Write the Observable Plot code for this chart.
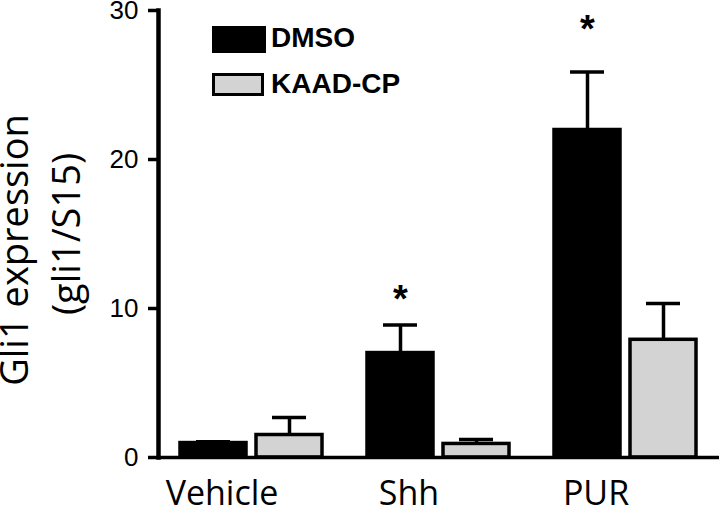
<!DOCTYPE html>
<html>
<head>
<meta charset="utf-8">
<script src="https://cdn.jsdelivr.net/npm/d3@7"></script>
<script src="https://cdn.jsdelivr.net/npm/@observablehq/plot@0.6"></script>
<style>
  body { margin: 0; background: white; }
  #wrap { position: relative; width: 720px; height: 506px; overflow: hidden; background: white; }
  #wrap svg [aria-label="frame"] { stroke-width: 4.5px; }
  #wrap svg [aria-label="y-axis tick"], #wrap svg [aria-label="y-axis tick"] * { stroke-width: 3.5px; }
  .ylab { position: absolute; white-space: nowrap; font-family: "Open Sans", sans-serif; font-size: 38px; line-height: 1; color: #000; transform: translate(-50%, -50%) rotate(-90deg); }
  .legtext { position: absolute; font-family: "Liberation Sans", Arial, sans-serif; font-weight: bold; font-size: 28px; line-height: 1; color: #000; white-space: nowrap; }
  .sw { position: absolute; box-sizing: border-box; }
</style>
</head>
<body>
<div id="wrap"></div>
<script>
// ---- data ----
const groups = ["Vehicle", "Shh", "PUR"];
const treatments = ["DMSO", "KAAD-CP"];
const dmsoMean = [0.97, 7.01, 21.98];
const dmsoTop = [1.05, 8.89, 25.87];   // mean + error
const kaadMean = [1.51, 0.91, 7.9];
const kaadTop = [2.68, 1.21, 10.33];   // mean + error
const starGroups = ["Shh", "PUR"];
const starY = [10.6, 28.7];
const yTicks = [0, 10, 20, 30];
const colors = ["#000000", "#d3d3d3"];

const data = groups.flatMap((g, i) => [
  {group: g, treatment: treatments[0], mean: dmsoMean[i], top: dmsoTop[i]},
  {group: g, treatment: treatments[1], mean: kaadMean[i], top: kaadTop[i]}
]);
const stars = starGroups.map((g, i) => ({group: g, treatment: treatments[0], y: starY[i]}));

const chart = Plot.plot({
  width: 720,
  height: 506,
  marginLeft: 157,
  marginRight: 0,
  marginTop: 10,
  marginBottom: 49,
  style: {background: "white", color: "black", fontFamily: "Liberation Sans, Arial, sans-serif", overflow: "visible"},
  fx: {domain: groups, padding: 0, label: null},
  x: {domain: treatments, paddingInner: 0.13, paddingOuter: 0.28, axis: null},
  y: {domain: [0, 30], label: null},
  color: {domain: treatments, range: colors},
  marks: [
    Plot.barY(data, {fx: "group", x: "treatment", y: "mean", fill: "treatment", stroke: "black", strokeWidth: 3.5}),
    Plot.ruleX(data, {fx: "group", x: "treatment", y1: "mean", y2: "top", stroke: "black", strokeWidth: 3.5}),
    Plot.tickY(data, {fx: "group", x: "treatment", y: "top", stroke: "black", strokeWidth: 3.5, insetLeft: 16, insetRight: 16}),
    Plot.text(stars, {fx: "group", x: "treatment", y: "y", text: () => "*", fontSize: 38, fontWeight: "bold", fontFamily: "Liberation Sans, Arial, sans-serif", fill: "black"}),
    Plot.ruleY([0], {stroke: "black", strokeWidth: 3.5}),
    Plot.frame({anchor: "left", facetAnchor: "left", stroke: "black", strokeWidth: 4.5}),
    Plot.axisY(yTicks, {tickSize: 10, tickPadding: 10, fontSize: 26, strokeWidth: 3.5, label: null, fontFamily: "Liberation Sans, Arial, sans-serif"}),
    Plot.axisFx({anchor: "bottom", tickSize: 0, tickPadding: 23, fontSize: 34, dx: -30, label: null, fontFamily: "Open Sans, sans-serif"})
  ]
});

const wrap = document.getElementById("wrap");
wrap.appendChild(chart);

// y-axis title (two lines, rotated)
const yl1 = document.createElement("div");
yl1.className = "ylab"; yl1.textContent = "Gli1 expression";
yl1.style.left = "13px"; yl1.style.top = "250px";
wrap.appendChild(yl1);
const yl2 = document.createElement("div");
yl2.className = "ylab"; yl2.textContent = "(gli1/S15)";
yl2.style.left = "65px"; yl2.style.top = "234px";
wrap.appendChild(yl2);

// legend
const legend = [
  {label: treatments[0], color: colors[0], top: 26, h: 27, w: 54, textTop: 24},
  {label: treatments[1], color: colors[1], top: 73, h: 23, w: 52, textTop: 70}
];
legend.forEach(d => {
  const sw = document.createElement("div");
  sw.className = "sw";
  sw.style.left = "212px"; sw.style.top = d.top + "px";
  sw.style.width = d.w + "px"; sw.style.height = d.h + "px";
  sw.style.background = d.color;
  sw.style.border = "3px solid #000";
  wrap.appendChild(sw);
  const t = document.createElement("div");
  t.className = "legtext"; t.textContent = d.label;
  t.style.left = "271px"; t.style.top = d.textTop + "px";
  wrap.appendChild(t);
});
</script>
</body>
</html>
